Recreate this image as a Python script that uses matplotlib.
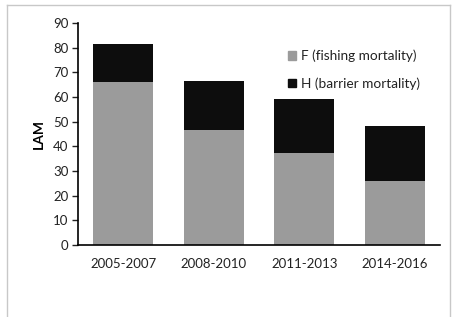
import matplotlib
matplotlib.use("Agg")
import matplotlib.pyplot as plt
from matplotlib.lines import Line2D
from matplotlib.patches import Patch

categories = ["2005-2007", "2008-2010", "2011-2013", "2014-2016"]
F_values = [66.0, 46.5, 37.5, 26.0]
H_values = [15.5, 20.0, 21.7, 22.3]
labels = ["F (fishing mortality)", "H (barrier mortality)"]

plt.rcParams['font.family'] = ['Lato', 'DejaVu Sans']

W, H = 457, 317
fig = plt.figure(figsize=(W / 100, H / 100), dpi=100)
ax = fig.add_axes([78 / W, 1 - 245 / H, (440 - 78) / W, (245 - 23) / H])

x = range(len(categories))
gray = "#9b9b9b"
black = "#0d0d0d"
ax.bar(x, F_values, width=0.66, color=gray)
ax.bar(x, H_values, width=0.66, bottom=F_values, color=black)

ax.set_xlim(-0.5, 3.5)
ax.set_ylim(0, 90)
ax.set_yticks(range(0, 91, 10))
ax.set_xticks(list(x))
ax.set_xticklabels(categories)
ax.tick_params(axis='x', length=0, pad=9, labelsize=9.5, colors="#222222")
ax.tick_params(axis='y', length=4, width=1, labelsize=9.5, colors="#222222", pad=3)
for s in ["top", "right"]:
    ax.spines[s].set_visible(False)
ax.spines["left"].set_linewidth(1.2)
ax.spines["bottom"].set_linewidth(1.2)
ax.set_ylabel("LAM", fontsize=10, fontweight="bold", labelpad=6)

handles = [Patch(facecolor=gray, edgecolor=gray), Patch(facecolor=black, edgecolor=black)]
leg = ax.legend(handles, labels, loc="upper left", bbox_to_anchor=(0.545, 0.935),
                frameon=False, fontsize=9.8, handlelength=0.6, handleheight=0.6,
                handletextpad=0.4, labelspacing=1.1, labelcolor="#222222")

# outer frame
fc = "#c8c8c8"
fig.add_artist(Line2D([7 / W, 7 / W], [0, 1 - 5 / H], transform=fig.transFigure, color=fc, lw=1))
fig.add_artist(Line2D([7 / W, 450 / W], [1 - 5 / H, 1 - 5 / H], transform=fig.transFigure, color=fc, lw=1))
fig.add_artist(Line2D([450 / W, 450 / W], [0, 1 - 5 / H], transform=fig.transFigure, color=fc, lw=1))

fig.savefig("out.png", dpi=100)
